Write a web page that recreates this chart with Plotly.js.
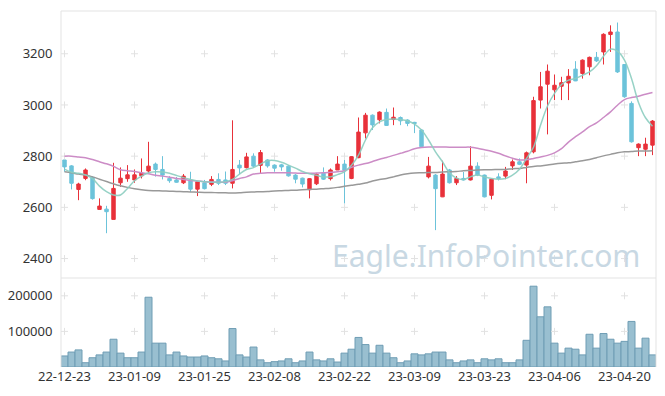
<!DOCTYPE html>
<html>
<head>
<meta charset="utf-8">
<script src="https://cdn.plot.ly/plotly-3.0.1.min.js"></script>
<style>html,body{margin:0;padding:0;background:#fff;}#chart{width:665px;height:396px;}</style>
</head>
<body>
<div id="chart"></div>
<script>
const dates = ["22-12-23","22-12-26","22-12-27","22-12-28","22-12-29","23-01-02","23-01-03","23-01-04","23-01-05","23-01-06",
"23-01-09","23-01-10","23-01-11","23-01-12","23-01-13","23-01-16","23-01-17","23-01-18","23-01-19","23-01-20",
"23-01-25","23-01-26","23-01-27","23-01-30","23-01-31","23-02-01","23-02-02","23-02-03","23-02-06","23-02-07",
"23-02-08","23-02-09","23-02-10","23-02-13","23-02-14","23-02-15","23-02-16","23-02-17","23-02-20","23-02-21",
"23-02-22","23-02-23","23-02-24","23-02-27","23-02-28","23-03-02","23-03-03","23-03-06","23-03-07","23-03-08",
"23-03-09","23-03-10","23-03-13","23-03-14","23-03-15","23-03-16","23-03-17","23-03-20","23-03-21","23-03-22",
"23-03-23","23-03-24","23-03-27","23-03-28","23-03-29","23-03-30","23-03-31","23-04-03","23-04-04","23-04-05",
"23-04-06","23-04-07","23-04-10","23-04-11","23-04-12","23-04-13","23-04-14","23-04-17","23-04-18","23-04-19",
"23-04-20","23-04-21","23-04-24","23-04-25","23-04-26"];

const open = [2785,2762,2670,2713,2717,2592,2593,2553,2696,2712,
2707,2723,2742,2769,2748,2713,2707,2696,2707,2671,
2696,2690,2709,2707,2694,2765,2755,2800,2764,2785,
2765,2766,2761,2726,2714,2669,2692,2733,2712,2746,
2769,2713,2794,2891,2960,2942,2971,2943,2951,2941,
2932,2902,2719,2726,2641,2746,2696,2713,2707,2761,
2726,2647,2719,2722,2762,2778,2765,2817,3019,3081,
3059,3073,3086,3140,3123,3149,3186,3207,3275,3285,
3158,3006,2833,2827,2843];
const high = [2788,2765,2696,2752,2722,2635,2606,2774,2756,2765,
2748,2791,2856,2775,2800,2722,2719,2730,2739,2703,
2707,2722,2733,2740,2940,2785,2813,2811,2824,2788,
2768,2770,2765,2730,2716,2714,2733,2756,2752,2800,
2786,2800,2951,2969,2963,2975,2986,2990,2955,2944,
2934,2905,2797,2730,2782,2750,2722,2738,2839,2776,
2728,2713,2733,2758,2787,2791,2818,3032,3129,3158,
3119,3110,3140,3171,3178,3189,3207,3280,3311,3322,
3160,3014,2850,2872,2941];
const low = [2739,2670,2628,2706,2630,2592,2499,2553,2680,2700,
2696,2713,2733,2720,2709,2696,2696,2691,2660,2644,
2670,2683,2687,2687,2674,2730,2752,2755,2733,2755,
2739,2743,2720,2694,2678,2635,2687,2707,2705,2746,
2615,2710,2792,2869,2902,2928,2918,2921,2921,2917,
2890,2835,2713,2511,2640,2693,2687,2705,2705,2722,
2639,2631,2705,2710,2746,2765,2694,2811,2986,2885,
3019,3019,3019,3093,3103,3116,3168,3158,3207,3125,
3028,2853,2800,2800,2804];
const close = [2758,2694,2691,2746,2634,2605,2583,2674,2714,2727,
2727,2734,2761,2748,2726,2704,2698,2722,2671,2700,
2673,2709,2694,2694,2748,2754,2797,2761,2814,2762,
2753,2758,2723,2710,2691,2712,2729,2710,2746,2769,
2745,2798,2894,2960,2922,2972,2920,2952,2938,2928,
2928,2837,2761,2673,2730,2696,2713,2707,2761,2726,
2641,2710,2713,2742,2778,2768,2813,3017,3071,3132,
3077,3087,3112,3094,3175,3186,3172,3276,3285,3129,
3032,2856,2847,2847,2937];

const ma5 = [2749,2737,2733,2727,2712,2683,2661,2648,2648,2674,
2704,2722,2735,2739,2738,2733,2725,2716,2709,2703,
2700,2698,2698,2700,2709,2730,2748,2755,2769,2782,
2783,2776,2765,2753,2740,2731,2725,2719,2719,2728,
2739,2764,2804,2863,2911,2934,2943,2945,2943,2938,
2925,2902,2863,2817,2778,2735,2714,2709,2719,2726,
2719,2713,2710,2713,2726,2749,2791,2835,2921,2996,
3045,3080,3097,3103,3116,3129,3153,3190,3218,3210,
3175,3103,3010,2950,2917];
const ma20 = [2800,2800,2797,2794,2787,2778,2770,2760,2747,2743,
2740,2735,2731,2725,2722,2718,2713,2709,2705,2703,
2700,2699,2698,2698,2704,2713,2719,2730,2733,2735,
2735,2735,2735,2734,2733,2733,2734,2735,2737,2739,
2743,2756,2765,2771,2779,2788,2795,2803,2811,2819,
2829,2834,2836,2836,2836,2835,2835,2835,2835,2831,
2825,2819,2811,2801,2792,2785,2786,2791,2797,2803,
2813,2829,2855,2876,2895,2915,2930,2951,2973,2999,
3021,3029,3034,3042,3049];
const ma60 = [2739,2735,2730,2726,2719,2710,2701,2692,2684,2678,
2673,2669,2666,2665,2664,2663,2662,2661,2660,2659,
2658,2658,2657,2657,2656,2657,2659,2660,2661,2662,
2664,2665,2666,2667,2669,2670,2671,2673,2675,2678,
2682,2686,2690,2695,2703,2709,2713,2719,2726,2731,
2734,2735,2736,2736,2738,2739,2740,2743,2744,2746,
2747,2747,2748,2748,2751,2752,2756,2760,2762,2765,
2769,2772,2774,2778,2782,2787,2794,2801,2807,2813,
2817,2818,2820,2820,2821];

const volume = [31000,42000,48000,12000,26000,34000,42000,78000,39000,26000,
26000,42000,196000,67000,67000,34000,42000,31000,28000,28000,
31000,26000,23000,17000,108000,34000,28000,56000,20000,12000,
15000,17000,23000,12000,17000,42000,20000,17000,23000,14000,
39000,50000,83000,63000,39000,61000,39000,26000,12000,17000,
37000,34000,37000,42000,42000,20000,12000,17000,20000,12000,
23000,20000,23000,12000,12000,20000,75000,227000,141000,169000,
67000,39000,53000,50000,34000,92000,53000,94000,78000,67000,
72000,128000,53000,81000,34000];

const xTicks = ["22-12-23","23-01-09","23-01-25","23-02-08","23-02-22","23-03-09","23-03-23","23-04-06","23-04-20"];
const priceTicks = [2400,2600,2800,3000,3200];
const volTicks = [100000,200000];
const volTickText = ["100000","200000"];

const RED = '#e8313a', BLUE = '#6cc3da';

// grid "+" marks at tick intersections
const cx1=[],cy1=[],cx2=[],cy2=[];
xTicks.forEach(t=>{priceTicks.forEach(p=>{cx1.push(t);cy1.push(p);}); volTicks.forEach(v=>{cx2.push(t);cy2.push(v);});});
const crossMarker = {symbol:'cross-thin',size:5,color:'#e2e2e2',line:{color:'#e2e2e2',width:1}};

const traces = [
  {type:'bar',x:dates,y:volume,xaxis:'x',yaxis:'y2',marker:{color:'#99bfd0',line:{color:'#6f9db4',width:1}},showlegend:false},
  {type:'scatter',mode:'markers',x:cx1,y:cy1,xaxis:'x',yaxis:'y',marker:crossMarker,hoverinfo:'skip',showlegend:false},
  {type:'scatter',mode:'markers',x:cx2,y:cy2,xaxis:'x',yaxis:'y2',marker:crossMarker,hoverinfo:'skip',showlegend:false},
  {type:'scatter',mode:'lines',x:dates,y:ma60,xaxis:'x',yaxis:'y',line:{color:'#999999',width:1.5,shape:'spline'},showlegend:false},
  {type:'scatter',mode:'lines',x:dates,y:ma20,xaxis:'x',yaxis:'y',line:{color:'#cc8cc6',width:1.5,shape:'spline'},showlegend:false},
  {type:'candlestick',x:dates,open:open,high:high,low:low,close:close,xaxis:'x',yaxis:'y',
   increasing:{line:{color:RED,width:1},fillcolor:RED},
   decreasing:{line:{color:BLUE,width:1},fillcolor:BLUE},
   whiskerwidth:0,showlegend:false},
  {type:'scatter',mode:'lines',x:dates,y:ma5,xaxis:'x',yaxis:'y',line:{color:'rgba(140,205,192,0.9)',width:1.5,shape:'spline'},showlegend:false}
];

const tickFont = {family:'"Noto Sans", sans-serif',size:13,color:'#333'};
const layout = {
  width:665,height:396,
  margin:{l:61,r:9,t:11,b:29},
  paper_bgcolor:'#fff',plot_bgcolor:'#fff',
  showlegend:false,bargap:0,
  xaxis:{type:'category',categoryorder:'array',categoryarray:dates,range:[-0.5,84.5],anchor:'y2',
         tickmode:'array',tickvals:xTicks,ticktext:xTicks,tickangle:0,
         showgrid:false,zeroline:false,showline:false,ticks:'',tickfont:tickFont,
         rangeslider:{visible:false},fixedrange:true},
  yaxis:{domain:[0.25,1],range:[2324,3367],tickmode:'array',tickvals:priceTicks,showgrid:false,zeroline:false,
         ticks:'outside',ticklen:5,tickcolor:'rgba(0,0,0,0)',tickfont:tickFont},
  yaxis2:{domain:[0,0.25],range:[0,250000],tickmode:'array',tickvals:volTicks,ticktext:volTickText,showgrid:false,zeroline:false,
          ticks:'outside',ticklen:5,tickcolor:'rgba(0,0,0,0)',tickfont:tickFont},
  shapes:[
    {type:'line',xref:'paper',yref:'paper',x0:0,x1:0,y0:0,y1:1,line:{color:'#e3e3e3',width:1}},
    {type:'line',xref:'paper',yref:'paper',x0:1,x1:1,y0:0,y1:1,line:{color:'#e3e3e3',width:1}},
    {type:'line',xref:'paper',yref:'paper',x0:0,x1:1,y0:1,y1:1,line:{color:'#e3e3e3',width:1}},
    {type:'line',xref:'paper',yref:'paper',x0:0,x1:1,y0:0.25,y1:0.25,line:{color:'#e3e3e3',width:1}}
  ],
  annotations:[
    {text:'Eagle.InfoPointer.com',xref:'paper',yref:'paper',x:0.977,y:0.251,xanchor:'right',yanchor:'bottom',
     showarrow:false,font:{family:'"Noto Sans", sans-serif',size:30,color:'#c8d8e3'}}
  ]
};

Plotly.newPlot('chart',traces,layout,{staticPlot:true,displayModeBar:false});
</script>
</body>
</html>
